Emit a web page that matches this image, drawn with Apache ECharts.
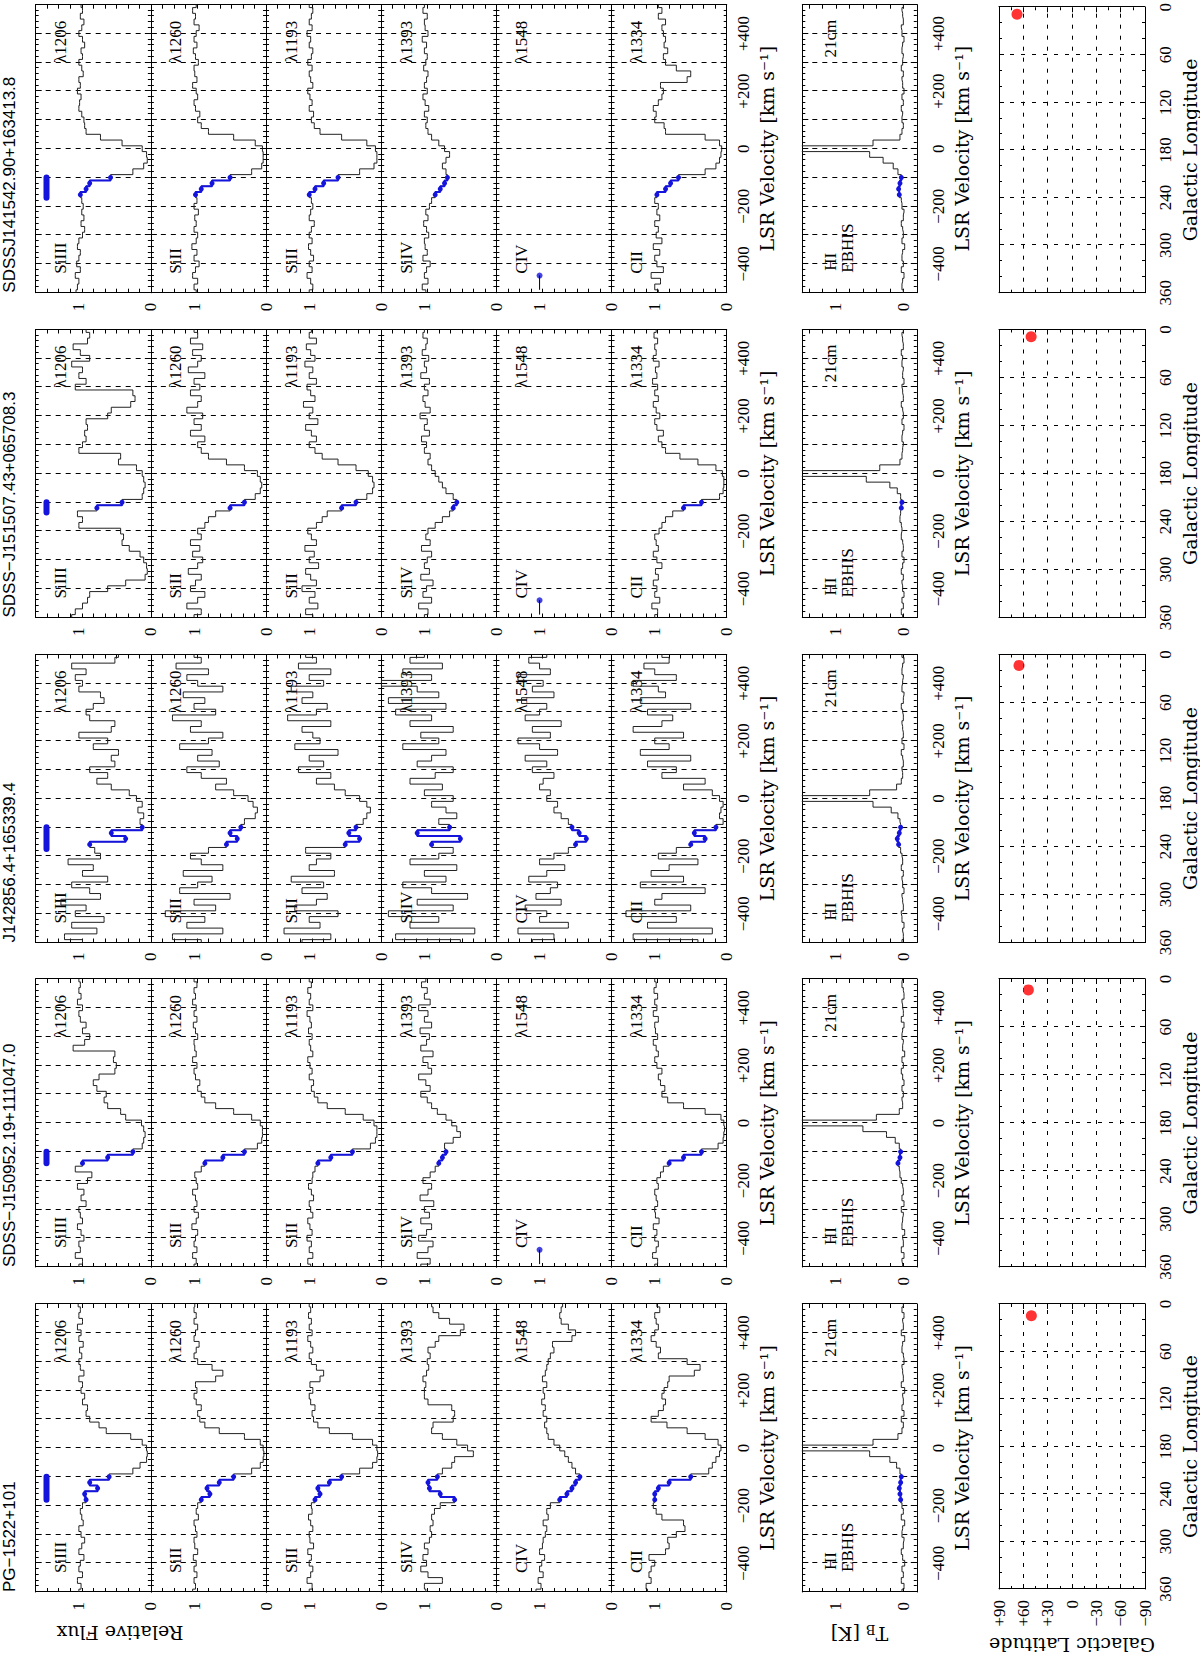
<!DOCTYPE html>
<html>
<head>
<meta charset="utf-8">
<script src="https://cdn.jsdelivr.net/npm/echarts@6/dist/echarts.min.js"></script>
<style>
  html, body { margin: 0; padding: 0; background: #fff; overflow: hidden; }
  #wrap { position: absolute; left: 0; top: 0; width: 1655px; height: 1200px;
          transform-origin: 0 0; transform: translateY(1655px) rotate(-90deg); }
  #chart { width: 1655px; height: 1200px; }
</style>
</head>
<body>
<div id="wrap"><div id="chart"></div></div>
<script>
// velocity bin centres (km/s)
const velocity = [-500,-480,-460,-440,-420,-400,-380,-360,-340,-320,-300,-280,-260,-240,-220,-200,-180,-160,-140,-120,
  -100,-80,-60,-40,-20,0,20,40,60,80,100,120,140,160,180,200,220,240,260,280,300,320,340,360,380,400,420,440,460,480,500];

const sightlines = ['PG−1522+101', 'SDSS−J150952.19+111047.0', 'J142856.4+165339.4', 'SDSS−J151507.43+065708.3', 'SDSSJ141542.90+163413.8'];
const ions = ['SiIII', 'SiII', 'SiII', 'SiIV', 'CIV', 'CII'];
const waves = ['λ1206', 'λ1260', 'λ1193', 'λ1393', 'λ1548', 'λ1334'];
const hvcMin = [-180, -140, -175, -135, -170];
const hvcMax = [-100, -100, -100, -100, -100];
const longitude = [14.9, 13.6, 13.6, 9.0, 8.9];
const latitude = [50.1, 53.8, 65.3, 50.4, 67.8];

// PG-1522+101
const pgSiIII = [1.0,0.97,1.02,0.95,1.0,0.98,0.93,1.0,0.96,0.92, 0.97,1.0,0.94,0.96,0.98,0.95,0.9,0.92,0.74,0.85, 0.58,0.25,0.15,0.06,0.05,0.06,0.12,0.28,0.62,0.72, 0.85,0.9,0.88,0.95,0.92,0.97,0.95,1.0,0.93,0.98, 1.0,0.96,0.99,0.94,1.0,0.97,1.02,0.95,1.0,0.98, 1.01];
const pgSiII1260 = [1.02,0.98,1.0,0.96,1.0,0.97,1.01,0.95,0.99,1.0, 0.96,0.98,1.0,0.94,0.97,0.95,0.9,0.78,0.82,0.65, 0.45,0.2,0.08,0.04,0.03,0.04,0.08,0.3,0.65,0.85, 0.92,0.95,0.9,0.97,1.0,0.96,0.98,0.7,0.6,0.75, 0.95,1.0,0.97,0.93,1.0,0.98,0.95,1.0,0.97,1.0, 0.99];
const pgSiII1193 = [1.0,0.96,1.03,0.98,0.95,1.0,0.97,1.02,0.94,0.99, 1.0,0.95,0.98,1.01,0.96,0.97,0.92,0.85,0.88,0.72, 0.55,0.3,0.12,0.06,0.05,0.06,0.12,0.4,0.72,0.88, 0.94,0.96,0.92,0.98,1.0,0.95,0.99,0.85,0.8,0.9, 0.97,1.0,0.95,0.98,1.02,0.96,1.0,0.97,1.01,0.98, 1.0];
const pgSiIV = [0.98,1.0,0.75,0.95,1.05,0.97,1.02,0.95,1.0,0.93, 0.9,0.92,0.88,0.9,0.86,0.78,0.58,0.78,0.93,0.95, 0.82,0.75,0.62,0.58,0.32,0.4,0.55,0.75,0.9,0.88, 0.6,0.58,0.62,0.95,1.0,1.0,0.98,1.02,0.97,0.94, 0.96,0.92,0.95,0.85,0.8,0.5,0.45,0.65,0.8,0.88, 0.9];
const pgCIV = [1.05,0.98,1.02,0.95,1.0,0.97,0.93,1.0,0.96,0.95, 0.92,0.9,0.95,0.88,0.9,0.85,0.72,0.62,0.55,0.5, 0.44,0.5,0.55,0.6,0.65,0.72,0.8,0.88,0.9,0.93, 0.9,0.95,0.92,0.97,0.93,0.95,0.9,0.96,0.92,0.9, 0.88,0.85,0.8,0.82,0.55,0.5,0.6,0.7,0.72,0.7, 0.68];
const pgCII = [1.1,1.12,1.05,1.08,1.05,1.0,1.08,0.85,0.8,0.82, 0.7,0.58,0.6,0.9,0.98,1.02,1.0,1.0,0.95,0.8, 0.5,0.25,0.2,0.15,0.1,0.08,0.12,0.3,0.55,0.83, 1.05,0.95,0.88,0.85,0.9,0.87,0.82,0.8,0.45,0.37, 0.55,0.95,0.92,0.98,1.05,1.0,0.95,0.98,1.0,0.93, 0.97];
const pgHI = [0.02,-0.01,0.03,0.0,0.02,-0.02,0.01,0.03,0.0,-0.01, 0.02,0.01,-0.02,0.03,0.0,0.02,0.04,0.05,0.06,0.04, 0.03,0.05,0.1,0.2,0.5,9.0,0.45,0.08,0.02,0.0, 0.03,-0.01,0.02,0.0,0.01,-0.02,0.03,0.0,0.01,0.02, -0.01,0.0,0.02,0.01,-0.02,0.03,0.0,0.01,-0.01,0.02, 0.0];

// SDSS-J150952.19+111047.0
const j1509SiIII = [1.0,0.95,1.05,0.98,1.0,0.93,0.97,1.02,0.95,0.98, 1.0,0.9,0.97,0.93,1.02,0.88,0.82,1.05,0.95,0.6, 0.25,0.12,0.1,0.08,0.1,0.13,0.35,0.42,0.6,0.65, 0.62,0.75,0.8,0.72,0.5,0.48,0.52,0.5,1.08,0.92, 0.85,0.95,0.9,0.98,1.0,0.95,1.02,0.97,1.0,0.98, 1.0];
const j1509SiII1260 = [1.0,0.97,1.02,0.96,1.0,0.98,0.95,1.03,0.97,0.94, 1.0,0.96,0.98,1.02,0.95,0.97,0.99,0.9,0.85,0.6, 0.3,0.12,0.06,0.05,0.05,0.08,0.2,0.45,0.7,0.85, 0.9,0.95,0.92,0.98,1.0,0.96,1.02,0.97,0.99,1.0, 0.95,0.98,1.01,0.96,1.0,0.97,1.02,0.98,1.0,0.96, 1.0];
const j1509SiII1193 = [0.98,1.02,0.95,1.0,0.97,1.03,0.96,0.99,1.02,0.95, 0.98,1.0,0.94,0.97,1.01,0.96,0.95,0.92,0.88,0.7, 0.4,0.15,0.08,0.06,0.06,0.1,0.25,0.5,0.75,0.88, 0.93,0.97,0.94,1.0,0.96,0.99,1.02,0.95,0.98,1.0, 0.96,1.01,0.97,0.99,1.03,0.95,1.0,0.98,1.02,0.97, 1.0];
const j1509SiIV = [1.05,0.92,1.1,0.95,0.88,1.08,0.97,0.9,1.05,0.93, 1.0,0.87,1.06,0.95,0.9,1.02,0.92,0.85,0.8,0.75, 0.7,0.72,0.6,0.5,0.55,0.62,0.7,0.82,0.9,0.96, 1.05,0.92,0.98,1.08,0.9,0.95,1.02,0.88,1.05,0.97, 0.93,1.06,0.9,1.0,0.95,1.08,0.92,1.0,0.96,1.04, 0.98];
const j1509CII = [1.0,0.96,1.03,0.98,0.95,1.0,0.97,1.02,0.94,0.99, 1.0,0.96,0.98,1.0,0.95,0.97,0.92,0.88,0.8,0.6, 0.35,0.12,0.05,0.04,0.03,0.04,0.08,0.3,0.6,0.82, 0.9,0.86,0.92,0.95,0.9,0.97,1.0,0.95,0.98,1.02, 0.96,0.99,1.0,0.95,1.02,0.97,1.0,0.96,1.01,0.98, 1.0];
const j1509HI = [0.01,0.02,-0.01,0.03,0.0,0.01,-0.02,0.02,0.01,0.0, 0.03,-0.01,0.02,0.0,0.01,0.03,0.05,0.06,0.08,0.05, 0.04,0.06,0.12,0.25,0.6,8.0,0.4,0.06,0.01,0.02, 0.0,0.02,-0.01,0.01,0.03,0.0,0.02,-0.02,0.01,0.0, 0.02,0.01,-0.01,0.03,0.0,0.01,0.02,-0.01,0.0,0.02, 0.01];

// J142856.4+165339.4
const j1428SiIII = [0.95,1.2,0.75,1.1,0.65,1.05,0.9,1.25,0.7,0.85, 1.1,0.6,0.95,0.8,1.15,0.7,0.78,0.85,0.35,0.55, 0.12,0.15,0.1,0.18,0.12,0.2,0.3,0.55,0.75,0.6, 0.85,0.5,0.55,0.45,0.8,0.6,1.0,0.55,0.5,0.85, 0.9,0.8,0.65,0.7,1.0,0.95,1.05,0.9,1.1,0.5, 0.45];
const j1428SiII1260 = [0.9,1.3,0.6,1.1,0.85,1.4,0.7,1.0,0.5,1.2, 0.95,0.75,1.15,0.6,0.9,1.05,0.8,0.55,0.4,0.5, 0.35,0.3,0.15,0.12,0.18,0.25,0.45,0.7,0.55,0.9, 1.1,0.65,0.95,0.75,1.2,0.8,0.6,1.05,0.9,1.3, 0.7,1.0,0.85,1.15,0.6,0.95,1.1,0.8,1.25,0.9, 1.0];
const j1428SiII1193 = [1.1,0.7,1.35,0.85,1.0,0.6,1.2,0.9,0.75,1.1, 0.8,1.25,0.65,1.0,0.9,0.7,1.05,0.5,0.3,0.45, 0.35,0.25,0.2,0.15,0.2,0.3,0.5,0.65,0.9,0.7, 1.15,0.8,1.0,0.6,1.2,0.85,0.95,1.1,0.7,1.3, 0.9,0.75,1.1,0.95,1.25,0.8,1.0,0.7,1.15,0.9, 1.05];
const j1428SiIV = [0.5,1.4,0.3,1.2,0.8,1.5,0.6,1.1,0.4,0.9, 1.3,0.7,1.0,0.55,1.2,0.8,0.6,0.9,0.5,1.1, 0.65,0.8,0.55,0.7,0.9,0.6,1.0,0.75,1.2,0.85, 0.6,1.1,0.9,0.7,1.3,0.8,1.05,0.6,1.2,0.9, 1.4,0.7,1.5,0.8,1.1,1.6,0.9,1.3,0.75,1.2, 1.0];
const j1428CIV = [1.1,0.8,1.3,0.6,1.0,0.9,1.2,0.7,1.05,0.85, 0.75,1.15,0.9,0.65,1.0,0.8,0.6,0.5,0.35,0.45, 0.55,0.6,0.7,0.8,0.75,0.9,0.85,1.0,0.95,0.8, 1.1,0.9,1.2,0.75,1.0,1.3,0.85,1.1,0.7,1.2, 1.0,0.9,1.25,0.8,1.1,0.95,1.3,0.85,1.0,1.15, 0.9];
const j1428CII = [0.4,1.3,0.2,1.1,0.7,1.4,0.5,1.0,0.9,0.3, 1.2,0.6,1.05,0.8,0.4,0.95,0.7,0.5,0.3,0.45, 0.15,0.05,0.1,0.08,0.05,0.1,0.2,0.6,0.3,0.9, 0.7,1.1,0.5,1.2,0.8,1.0,0.6,1.3,0.9,0.75, 1.1,0.5,1.2,0.85,0.95,1.3,0.7,1.0,1.15,0.8, 0.9];
const j1428HI = [0.02,0.0,0.01,-0.01,0.02,0.03,0.0,0.01,0.02,-0.01, 0.01,0.02,0.0,0.03,0.01,0.02,0.04,0.07,0.09,0.06, 0.04,0.05,0.08,0.18,0.45,10.0,0.5,0.1,0.03,0.01, 0.02,0.0,0.01,0.03,-0.01,0.02,0.0,0.01,0.02,0.0, 0.01,0.03,0.0,-0.01,0.02,0.01,0.0,0.02,0.01,-0.01, 0.02];

// SDSS-J151507.43+065708.3
const j1515SiIII = [1.1,1.05,0.95,0.88,0.85,0.6,0.35,0.08,0.05,0.06, 0.1,0.15,0.3,0.4,0.38,0.42,1.0,0.95,1.02,0.75, 0.4,0.12,0.1,0.08,0.1,0.12,0.2,0.45,0.42,1.0, 0.95,0.9,0.92,0.88,0.9,0.6,0.55,0.28,0.22,0.25, 1.05,0.9,1.0,0.95,1.1,0.85,0.98,1.08,0.88,0.85, 0.9];
const j1515SiII1260 = [1.0,0.9,1.1,0.95,0.85,1.05,0.98,0.9,1.08,0.95, 0.88,1.02,0.92,1.05,0.9,0.95,0.85,0.8,0.7,0.5, 0.3,0.15,0.08,0.06,0.08,0.12,0.3,0.55,0.8,0.9, 0.95,0.85,1.05,0.9,1.0,0.88,1.1,0.95,0.9,1.05, 0.92,1.0,0.85,1.08,0.95,0.9,1.02,0.88,1.05,0.95, 1.0];
const j1515SiII1193 = [0.95,1.05,0.88,1.0,0.92,1.1,0.9,0.98,1.05,0.87, 1.0,0.93,1.06,0.9,0.97,1.02,0.9,0.82,0.75,0.55, 0.35,0.2,0.12,0.1,0.12,0.18,0.35,0.6,0.82,0.92, 1.0,0.9,0.97,1.05,0.88,1.0,0.95,1.08,0.92,0.98, 1.03,0.9,1.0,0.95,1.06,0.92,0.98,1.04,0.9,1.0, 0.97];
const j1515SiIV = [1.0,0.95,1.08,0.9,1.02,0.97,0.88,1.05,0.93,1.0, 0.96,0.9,1.04,0.92,0.98,0.95,0.85,0.75,0.65,0.6, 0.55,0.6,0.7,0.75,0.8,0.85,0.9,0.95,0.92,1.0, 0.97,1.04,0.93,1.0,0.96,1.06,0.92,0.99,1.02,0.95, 1.0,0.93,1.05,0.97,1.0,0.94,1.03,0.98,0.96,1.02, 1.0];
const j1515CII = [1.0,0.96,1.04,0.93,1.0,0.97,1.02,0.95,0.99,0.9, 0.97,1.02,0.95,0.98,1.0,0.94,0.9,0.85,0.75,0.6, 0.35,0.1,0.05,0.04,0.04,0.06,0.15,0.4,0.65,0.85, 0.9,0.95,0.88,0.97,1.0,0.93,0.98,1.02,0.95,1.0, 0.96,1.03,0.97,0.99,0.94,1.02,0.98,1.0,0.96,1.01, 0.98];
const j1515HI = [0.01,0.03,0.0,0.02,-0.01,0.01,0.02,0.0,0.03,0.01, -0.01,0.02,0.0,0.01,0.03,0.02,0.03,0.05,0.04,0.03, 0.02,0.04,0.09,0.2,0.55,9.0,0.35,0.05,0.02,0.01, 0.0,0.02,0.01,-0.01,0.02,0.0,0.01,0.03,0.0,0.01, 0.02,-0.01,0.01,0.0,0.02,0.01,0.03,0.0,0.01,0.02, 0.0];

// SDSSJ141542.90+163413.8
const j1415SiIII = [1.04,1.02,1.0,1.05,0.98,1.03,1.0,0.98,1.02,1.0, 0.95,0.92,0.97,0.93,0.96,0.94,0.96,0.98,0.9,0.85, 0.56,0.25,0.1,0.05,0.06,0.12,0.4,0.7,0.9,0.92, 0.93,0.96,1.0,0.99,0.97,1.02,0.98,1.0,0.94,0.96, 1.0,0.95,0.97,0.92,0.95,1.0,0.96,0.93,0.98,0.95, 0.97];
const j1415SiII1260 = [0.97,1.0,0.95,1.02,0.98,0.93,1.0,0.96,1.03,0.97, 0.95,1.0,0.97,0.99,0.94,1.0,0.96,0.98,0.9,0.75, 0.5,0.2,0.06,0.04,0.04,0.05,0.15,0.45,0.8,0.9, 0.95,0.92,0.98,1.0,0.95,0.97,1.02,0.96,0.99,1.0, 0.94,0.98,1.01,0.96,1.0,0.97,0.93,1.0,0.98,1.02, 0.97];
const j1415SiII1193 = [1.0,0.95,0.98,1.03,0.96,1.0,0.94,0.98,1.01,0.96, 1.0,0.97,0.93,1.0,0.98,0.95,0.97,1.0,0.92,0.8, 0.6,0.3,0.1,0.06,0.06,0.08,0.2,0.55,0.85,0.93, 0.97,0.94,1.0,0.96,0.99,1.02,0.95,0.98,1.0,0.96, 1.02,0.97,0.95,1.0,0.98,1.03,0.96,1.0,0.97,0.95, 1.0];
const j1415SiIV = [0.98,1.03,0.95,1.0,0.97,0.92,1.02,0.96,0.99,1.0, 0.94,0.97,1.01,0.95,0.98,0.93,0.9,0.85,0.78,0.72, 0.68,0.7,0.75,0.7,0.65,0.72,0.8,0.9,0.95,0.98, 0.96,1.0,0.94,0.99,1.02,0.96,1.0,0.97,0.95,1.01, 0.98,0.96,1.0,0.97,1.03,0.95,0.99,1.0,0.96,1.02, 1.0];
const j1415CII = [0.95,1.0,0.92,1.05,0.88,0.97,1.0,0.93,1.02,0.9, 0.98,0.95,1.0,0.93,0.97,0.95,1.0,0.97,0.85,0.78, 0.67,0.3,0.15,0.1,0.08,0.07,0.1,0.3,0.85,0.87, 1.0,0.98,1.02,0.95,0.9,0.88,0.92,0.55,0.5,0.7, 0.85,0.88,0.82,0.87,0.85,0.88,0.9,0.85,0.95,0.9, 0.95];
const j1415HI = [0.0,0.02,0.01,-0.01,0.03,0.0,0.02,0.01,-0.02,0.02, 0.0,0.01,0.03,0.0,-0.01,0.02,0.03,0.06,0.07,0.05, 0.03,0.08,0.15,0.3,0.5,12.0,0.45,0.05,0.02,0.0, 0.02,0.01,0.03,0.0,0.02,-0.01,0.01,0.02,0.0,0.03, 0.01,0.0,0.02,0.01,-0.01,0.02,0.03,0.0,0.01,0.02, 0.0];

const metalTable = [
  [pgSiIII, pgSiII1260, pgSiII1193, pgSiIV, pgCIV, pgCII],
  [j1509SiIII, j1509SiII1260, j1509SiII1193, j1509SiIV, null, j1509CII],
  [j1428SiIII, j1428SiII1260, j1428SiII1193, j1428SiIV, j1428CIV, j1428CII],
  [j1515SiIII, j1515SiII1260, j1515SiII1193, j1515SiIV, null, j1515CII],
  [j1415SiIII, j1415SiII1260, j1415SiII1193, j1415SiIV, null, j1415CII]
];
const hiTable = [pgHI, j1509HI, j1428HI, j1515HI, j1415HI];

metalTable.flat().concat(hiTable).forEach(function (a, k) {
  if (a && a.length !== velocity.length) throw new Error('array ' + k + ' has ' + a.length + ' values');
});

// layout (landscape frame, rotated by CSS afterwards)
const bandLeft = [63, 388, 712.5, 1037.5, 1362.3];
const bandWidth = 288;
const panelTop = 35.7, panelHeight = 115.17;
const hiTop = 802.3, hiHeight = 114.5;
const mapTop = 999, mapHeight = 146.7;

const BLUE = '#1414dc';
const serif = 'Liberation Serif';
const nameFont = 'DejaVu Serif';

function signed(v) {
  if (v > 0) return '+' + v;
  if (v < 0) return '−' + Math.abs(v);
  return '0';
}

const option = {
  animation: false,
  backgroundColor: '#fff',
  grid: [], xAxis: [], yAxis: [], series: [], graphic: []
};

function addPanel(left, top, width, height, xs, ys) {
  const gi = option.grid.length;
  option.grid.push({ left: left, top: top, width: width, height: height, show: false });
  const xi = option.xAxis.length;
  option.xAxis.push(Object.assign({ gridIndex: gi, position: 'bottom' }, xs.bottom));
  option.xAxis.push(Object.assign({ gridIndex: gi, position: 'top' }, xs.top));
  const yi = option.yAxis.length;
  option.yAxis.push(Object.assign({ gridIndex: gi, position: 'left' }, ys.left));
  option.yAxis.push(Object.assign({ gridIndex: gi, position: 'right' }, ys.right));
  return { xi: xi, yi: yi };
}

const axisLine = { show: true, onZero: false, lineStyle: { color: '#000', width: 1 } };
const dashed = { show: true, lineStyle: { color: '#000', width: 1, type: [5, 5] } };

function velAxes(showLabels, margin, nameGap) {
  const base = {
    type: 'value', min: -500, max: 500, interval: 100,
    axisLine: axisLine,
    axisTick: { show: true, inside: true, length: 6, lineStyle: { color: '#000' } },
    minorTick: { show: true, splitNumber: 5, length: 3, lineStyle: { color: '#000' } }
  };
  const bottom = Object.assign({}, base, {
    splitLine: dashed,
    axisLabel: showLabels ? {
      show: true, customValues: [-400, -200, 0, 200, 400], formatter: signed,
      margin: margin, color: '#000', fontFamily: serif, fontSize: 17
    } : { show: false },
    name: showLabels ? 'LSR Velocity [km s⁻¹]' : '',
    nameLocation: 'middle', nameGap: nameGap,
    nameTextStyle: { color: '#000', fontFamily: nameFont, fontSize: 19 }
  });
  const top = Object.assign({}, base, { splitLine: { show: false }, axisLabel: { show: false } });
  return { bottom: bottom, top: top };
}

function fluxAxes(min, max, ticks, labels) {
  const base = {
    type: 'value', min: min, max: max,
    axisLine: axisLine, splitLine: { show: false },
    axisTick: { show: true, inside: true, length: 4, customValues: ticks, lineStyle: { color: '#000' } }
  };
  const left = Object.assign({}, base, {
    axisLabel: { show: true, customValues: labels, margin: 10, color: '#000', fontFamily: serif, fontSize: 17 }
  });
  const right = Object.assign({}, base, { axisLabel: { show: false } });
  return { left: left, right: right };
}

const fluxTicks = [0, 0.16, 0.32, 0.48, 0.64, 0.8, 0.96, 1.12, 1.28, 1.44, 1.6];
const hiTicks = [-0.2, 0, 0.2, 0.4, 0.6, 0.8, 1.0, 1.2, 1.4];

function blueSubset(vals, b) {
  const out = [];
  velocity.forEach(function (v, i) {
    if (v >= hvcMin[b] && v <= hvcMax[b]) out.push([v, vals[i]]);
  });
  return out;
}

function addText(x, y, text, font, align, extra) {
  option.graphic.push(Object.assign({
    type: 'text', x: x, y: y, silent: true,
    style: { text: text, font: font, fill: '#000', align: align, verticalAlign: 'middle',
             textAlign: align, textVerticalAlign: 'middle' }
  }, extra || {}));
}

sightlines.forEach(function (name, b) {
  const left = bandLeft[b];
  addText(left, 9, name, '17px "Liberation Sans"', 'left');

  // metal-line panels
  metalTable[b].forEach(function (vals, j) {
    const top = panelTop + j * panelHeight;
    const ax = addPanel(left, top, bandWidth, panelHeight,
      velAxes(j === 5, 8, 31), fluxAxes(0, 1.6, fluxTicks, [0, 1]));
    addText(left + 19, top + 25, ions[j], '17px "Liberation Serif"', 'left');
    addText(left + 272, top + 25, waves[j], '17px "Liberation Serif"', 'right');
    if (vals) {
      option.series.push({
        type: 'line', xAxisIndex: ax.xi, yAxisIndex: ax.yi, step: 'middle',
        data: velocity.map(function (v, i) { return [v, vals[i]]; }),
        showSymbol: false, symbol: 'none', clip: true,
        lineStyle: { color: '#222', width: 1 }
      });
      option.series.push({
        type: 'line', xAxisIndex: ax.xi, yAxisIndex: ax.yi, step: 'middle',
        data: blueSubset(vals, b), symbol: 'circle', symbolSize: 5, clip: true,
        itemStyle: { color: BLUE }, lineStyle: { color: BLUE, width: 2 }
      });
    } else {
      // no CIV coverage: marker at the continuum
      option.series.push({
        type: 'line', xAxisIndex: ax.xi, yAxisIndex: ax.yi,
        data: [[-490, 1], [-440, 1]], symbol: 'none',
        lineStyle: { color: '#000', width: 1 }
      });
      option.series.push({
        type: 'scatter', xAxisIndex: ax.xi, yAxisIndex: ax.yi,
        data: [[-440, 1]], symbolSize: 6, itemStyle: { color: BLUE }
      });
    }
    if (j === 0) {
      option.series.push({
        type: 'line', xAxisIndex: ax.xi, yAxisIndex: ax.yi,
        data: [[hvcMin[b], 1.45], [hvcMax[b], 1.45]], symbol: 'none',
        lineStyle: { color: BLUE, width: 6, cap: 'round' }
      });
    }
  });

  // HI 21cm panel
  const hiAxes = fluxAxes(-0.2, 1.5, hiTicks, [0, 1]);
  if (b === 0) {
    hiAxes.left.name = 'T{s|B} [K]';
    hiAxes.left.nameLocation = 'middle';
    hiAxes.left.nameGap = 31;
    hiAxes.left.nameTextStyle = {
      color: '#000', fontFamily: nameFont, fontSize: 19,
      rich: { s: { fontFamily: nameFont, fontSize: 13, color: '#000', padding: [9, 0, 0, 0] } }
    };
  }
  const hax = addPanel(left, hiTop, bandWidth, hiHeight, velAxes(true, 13, 36), hiAxes);
  addText(left + 22, hiTop + 28, 'HI', '17px "Liberation Serif"', 'left');
  addText(left + 20, hiTop + 45, 'EBHIS', '17px "Liberation Serif"', 'left');
  addText(left + 273, hiTop + 28, '21cm', '17px "Liberation Serif"', 'right');
  option.series.push({
    type: 'line', xAxisIndex: hax.xi, yAxisIndex: hax.yi, step: 'middle',
    data: velocity.map(function (v, i) { return [v, hiTable[b][i]]; }),
    symbol: 'none', clip: true, lineStyle: { color: '#222', width: 1 }
  });
  option.series.push({
    type: 'line', xAxisIndex: hax.xi, yAxisIndex: hax.yi, step: 'middle',
    data: blueSubset(hiTable[b], b), symbol: 'circle', symbolSize: 5, clip: true,
    itemStyle: { color: BLUE }, lineStyle: { color: BLUE, width: 2 }
  });

  // sky position panel
  const mapTick = { show: true, inside: true, length: 5, lineStyle: { color: '#000' } };
  const mapMinor = { show: true, length: 3, lineStyle: { color: '#000' } };
  const lonBase = {
    type: 'value', min: 0, max: 360, interval: 60, inverse: true,
    axisLine: axisLine, axisTick: mapTick,
    minorTick: Object.assign({ splitNumber: 3 }, mapMinor)
  };
  const latBase = {
    type: 'value', min: -90, max: 90, interval: 30,
    axisLine: axisLine, axisTick: mapTick,
    minorTick: Object.assign({ splitNumber: 2 }, mapMinor)
  };
  const mapDash = { show: true, lineStyle: { color: '#000', width: 1, type: [4, 7] } };
  const lonX = {
    bottom: Object.assign({}, lonBase, {
      splitLine: mapDash,
      axisLabel: { show: true, margin: 12, color: '#000', fontFamily: serif, fontSize: 17 },
      name: 'Galactic Longitude', nameLocation: 'middle', nameGap: 35,
      nameTextStyle: { color: '#000', fontFamily: nameFont, fontSize: 19 }
    }),
    top: Object.assign({}, lonBase, { splitLine: { show: false }, axisLabel: { show: false } })
  };
  const latY = {
    left: Object.assign({}, latBase, {
      splitLine: mapDash,
      axisLabel: b === 0 ? { show: true, margin: 11, formatter: signed, color: '#000', fontFamily: serif, fontSize: 17 } : { show: false },
      name: b === 0 ? 'Galactic Latitude' : '', nameLocation: 'middle', nameGap: 46,
      nameTextStyle: { color: '#000', fontFamily: nameFont, fontSize: 19 }
    }),
    right: Object.assign({}, latBase, { splitLine: { show: false }, axisLabel: { show: false } })
  };
  const max = addPanel(left, mapTop, bandWidth, mapHeight, lonX, latY);
  option.series.push({
    type: 'scatter', xAxisIndex: max.xi, yAxisIndex: max.yi,
    data: [[longitude[b], latitude[b]]], symbolSize: 11, itemStyle: { color: '#f00' }
  });
});

// shared y label of the absorption panels
addText(22, 120, 'Relative Flux', '19px "DejaVu Serif"', 'center', { rotation: Math.PI / 2 });

const chart = echarts.init(document.getElementById('chart'), null, { renderer: 'svg' });
chart.setOption(option);
</script>
</body>
</html>
